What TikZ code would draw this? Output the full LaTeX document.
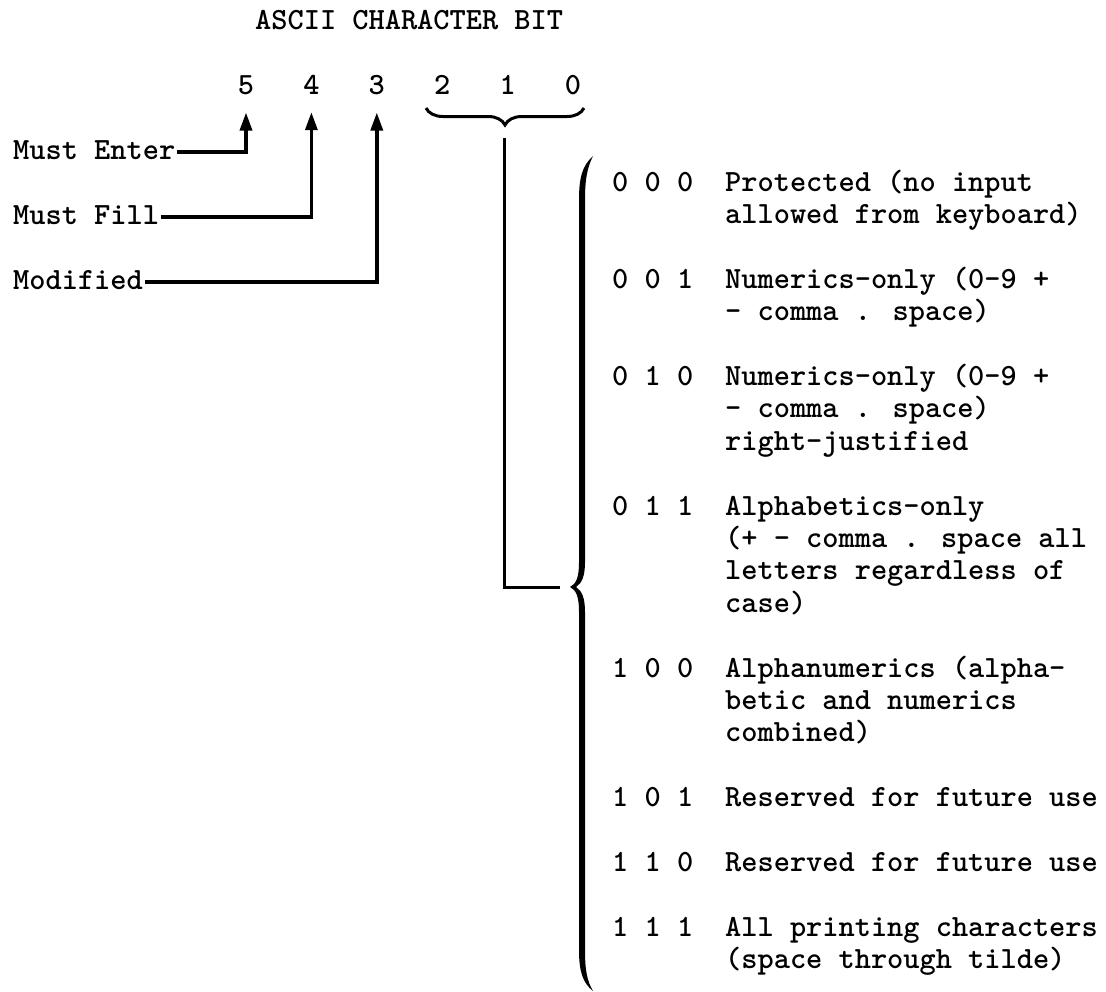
\documentclass[tikz,border=0pt]{standalone}
\usepackage{fontspec}
\setmainfont{lmmonolt10-bold.otf}
\usepackage{tikz}
\usetikzlibrary{arrows.meta, decorations.pathreplacing}

\tikzset{
  every node/.style={font=\fontsize{30.86}{32.4}\selectfont, inner sep=0pt},
  lbl/.style={anchor=base west, text height=14pt, text depth=0pt, inner xsep=2pt},
  bit/.style={anchor=base},
  code/.style={anchor=base west},
  desc/.style={anchor=base west},
  arr/.style={line width=3.4pt, -{Triangle[width=12pt,length=18pt]}, shorten >=18pt},
  link/.style={line width=3pt}
}
\newcommand{\lines}[1]{\begin{tabular}[t]{@{}l@{}}#1\end{tabular}}

\begin{document}
\begin{tikzpicture}[x=1pt, y=-1pt]
  \useasboundingbox (0,0) rectangle (1106,991);
  \node[anchor=base west] (title) at (255,29) {ASCII CHARACTER BIT};
  % bit numbers
  \foreach \b [count=\i from 0] in {5,4,3,2,1,0}
    \node[bit] (b\b) at (246+65.4*\i,94) {\b};
  % field attribute labels
  \node[lbl] (enter) at (11,159) {Must Enter};
  \node[lbl] (fill) at (11,224) {Must Fill};
  \node[lbl] (modif) at (11,289) {Modified};
  \draw[arr] (enter.east) -| (b5.south);
  \draw[arr] (fill.east) -| (b4.south);
  \draw[arr] (modif.east) -| (b3.south);
  % brace under bits 2-0
  \draw[link, decorate, decoration={brace, amplitude=17pt}] (584,108) -- (426,108);
  \coordinate (sbtip) at (504,138);
  \coordinate (bbtip) at (560,587);
  \draw[link] (sbtip) |- (bbtip);
  % big brace
  \fill (593,156) .. controls (582,166) and (579,178) .. (579,200)
    -- (579,562) .. controls (579,578) and (576,584) .. (570,587)
    .. controls (576,590) and (579,596) .. (579,612)
    -- (579,950) .. controls (579,972) and (583,983) .. (593,991)
    .. controls (587,981) and (585,970) .. (585,950)
    -- (585,612) .. controls (585,598) and (582,591) .. (576,587)
    .. controls (582,583) and (585,576) .. (585,562)
    -- (585,200) .. controls (585,180) and (587,168) .. (593,156) -- cycle;
  % codes and their meanings
  \foreach \n/\c/\t in {
    5/0 0 0/{Protected (no input\\allowed from keyboard)},
    8/0 0 1/{Numerics-only (0-9 +\\- comma . space)},
    11/0 1 0/{Numerics-only (0-9 +\\- comma . space)\\right-justified},
    15/0 1 1/{Alphabetics-only\\(+ - comma . space all\\letters regardless of\\case)},
    20/1 0 0/{Alphanumerics (alpha-\\betic and numerics\\combined)},
    24/1 0 1/{Reserved for future use},
    26/1 1 0/{Reserved for future use},
    28/1 1 1/{All printing characters\\(space through tilde)}}
  {
    \node[code] (c\n) at (612,29+32.4*\n) {\c};
    \node[desc] (d\n) at (725,29+32.4*\n) {\lines{\t}};
  }
\end{tikzpicture}
\end{document}
